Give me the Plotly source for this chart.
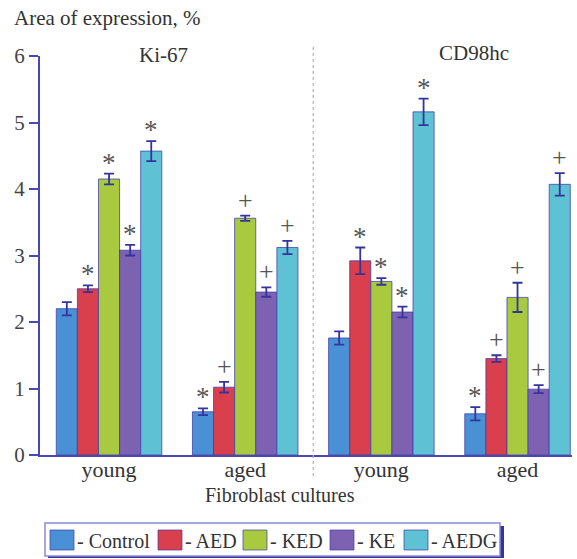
import plotly.graph_objects as go

# ---- data ----
groups = ["young", "aged", "young", "aged"]
series_names = ["Control", "AED", "KED", "KE", "AEDG"]
control = [2.20, 0.65, 1.76, 0.62]
aed = [2.50, 1.02, 2.92, 1.45]
ked = [4.15, 3.56, 2.61, 2.37]
ke = [3.08, 2.45, 2.15, 0.99]
aedg = [4.57, 3.12, 5.16, 4.07]
control_err = [0.10, 0.05, 0.10, 0.10]
aed_err = [0.05, 0.08, 0.20, 0.05]
ked_err = [0.08, 0.04, 0.05, 0.22]
ke_err = [0.08, 0.07, 0.08, 0.06]
aedg_err = [0.15, 0.10, 0.20, 0.17]
control_sig = ["", "*", "", "*"]
aed_sig = ["*", "+", "*", "+"]
ked_sig = ["*", "+", "*", "+"]
ke_sig = ["*", "+", "*", "+"]
aedg_sig = ["*", "+", "*", "+"]
panel_titles = ["Ki-67", "CD98hc"]
y_ticks = [0, 1, 2, 3, 4, 5, 6]

values = [control, aed, ked, ke, aedg]
errors = [control_err, aed_err, ked_err, ke_err, aedg_err]
sigs = [control_sig, aed_sig, ked_sig, ke_sig, aedg_sig]
colors = ["#4a90d4", "#d93f4d", "#a9c93f", "#7d62b2", "#5ec2d4"]

W, H = 577, 559
ML, MR, MT, MB = 40, 5, 56, 104
FONT = "Liberation Serif"
TXT = "#333333"
AXC = "#4848b0"

def px(xp):
    return (xp - ML) / (W - ML - MR)

def py(yp):
    return (H - MB - yp) / (H - MT - MB)

xpos = list(range(len(groups)))
bw = 0.155
fig = go.Figure()
annotations = []
for i, name in enumerate(series_names):
    off = -2.5 * bw + i * bw
    fig.add_trace(go.Bar(
        x=xpos, y=values[i], name=name, width=bw, offset=off,
        marker=dict(color=colors[i], line=dict(color="rgba(60,60,170,0.75)", width=1)),
        error_y=dict(type="data", array=errors[i], color="#34349c", thickness=1.8, width=5),
        showlegend=False,
    ))
    for g in xpos:
        s = sigs[i][g]
        if s:
            annotations.append(dict(
                x=g + off + bw / 2, y=values[i][g] + errors[i][g], xref="x", yref="y",
                text=s, showarrow=False, yanchor="bottom", yshift=(-6 if s == "*" else -1),
                font=dict(family=FONT, size=(27 if s == "*" else 26), color="#555555"),
            ))

# texts
annotations += [
    dict(x=px(12), y=py(18), xref="paper", yref="paper", text="Area of expression, %",
         showarrow=False, xanchor="left", yanchor="middle", font=dict(family=FONT, size=21, color=TXT)),
    dict(x=px(163), y=py(55), xref="paper", yref="paper", text=panel_titles[0],
         showarrow=False, xanchor="center", yanchor="middle", font=dict(family=FONT, size=21, color=TXT)),
    dict(x=px(474), y=py(53), xref="paper", yref="paper", text=panel_titles[1],
         showarrow=False, xanchor="center", yanchor="middle", font=dict(family=FONT, size=21, color=TXT)),
    dict(x=px(280), y=py(495), xref="paper", yref="paper", text="Fibroblast cultures",
         showarrow=False, xanchor="center", yanchor="middle", font=dict(family=FONT, size=20, color=TXT)),
]

shapes = [
    dict(type="line", xref="x", yref="paper", x0=1.5, x1=1.5, y0=py(476), y1=py(46),
         line=dict(color="#b0b0b0", width=1.2, dash="dot")),
    # legend shadow and box
    dict(type="rect", xref="paper", yref="paper", x0=px(48), x1=px(504), y0=py(558), y1=py(526),
         fillcolor="#34349c", line=dict(width=0), layer="above"),
    dict(type="rect", xref="paper", yref="paper", x0=px(45), x1=px(500), y0=py(556), y1=py(523),
         fillcolor="white", line=dict(color="#8a8ad6", width=1.5), layer="above"),
]
sq_x = [50, 158, 243, 330, 404]
for i, name in enumerate(series_names):
    shapes.append(dict(type="rect", xref="paper", yref="paper", x0=px(sq_x[i]), x1=px(sq_x[i] + 24),
                       y0=py(550), y1=py(530), fillcolor=colors[i],
                       line=dict(color="rgba(60,60,170,0.7)", width=1), layer="above"))
    annotations.append(dict(x=px(sq_x[i] + 25), y=py(541), xref="paper", yref="paper",
                            text="- " + name, showarrow=False, xanchor="left", yanchor="middle",
                            font=dict(family=FONT, size=20, color=TXT)))

fig.update_layout(
    width=W, height=H, margin=dict(l=ML, r=MR, t=MT, b=MB),
    paper_bgcolor="white", plot_bgcolor="white",
    barmode="overlay", showlegend=False,
    font=dict(family=FONT, size=20, color=TXT),
    annotations=annotations, shapes=shapes,
    xaxis=dict(range=[-0.507, 3.40], tickvals=xpos, ticktext=groups, showgrid=False,
               zeroline=False, showline=True, linecolor=AXC, linewidth=2, ticks="",
               ticklabelstandoff=-6,
               tickfont=dict(family=FONT, size=22, color=TXT), fixedrange=True),
    yaxis=dict(range=[0, 6], tickvals=y_ticks, showgrid=False, zeroline=False,
               showline=True, linecolor=AXC, linewidth=2, ticks="outside", ticklen=9,
               tickcolor=AXC, tickwidth=2, tickfont=dict(family=FONT, size=21, color="#444444")),
)

fig.write_html("out.html", config={"displayModeBar": False},
               post_script="document.body.style.margin='0';")
